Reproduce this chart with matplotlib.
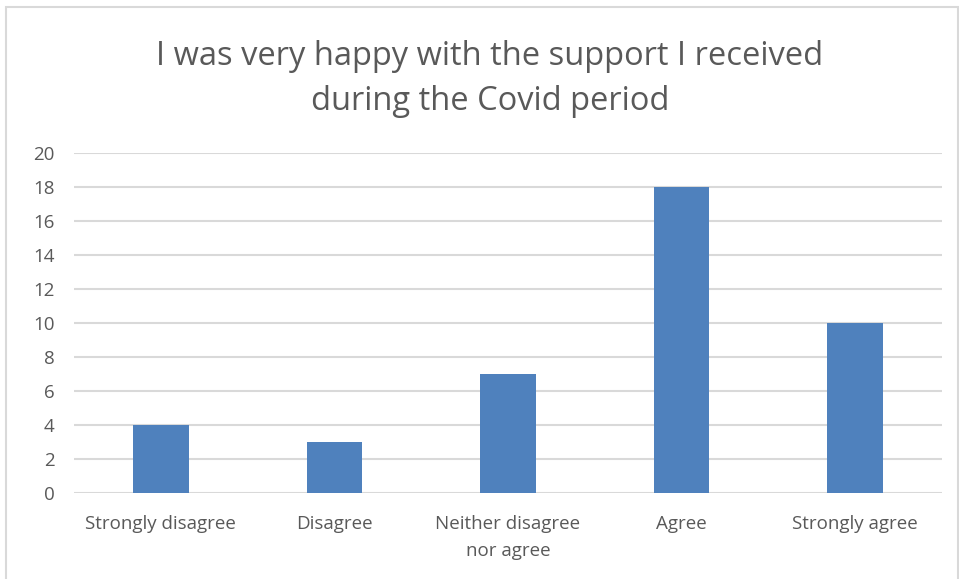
import matplotlib
matplotlib.use("Agg")
import matplotlib.pyplot as plt
from matplotlib.patches import Rectangle

categories = ["Strongly disagree", "Disagree", "Neither disagree\nnor agree",
              "Agree", "Strongly agree"]
counts = [4, 3, 7, 18, 10]
yticks = [0, 2, 4, 6, 8, 10, 12, 14, 16, 18, 20]

BAR   = "#4F81BD"
TEXT  = "#595959"
GRID  = "#D9D9D9"

plt.rcParams["font.family"] = ["Open Sans", "DejaVu Sans"]

fig = plt.figure(figsize=(9.59, 5.79), dpi=100)
W, H = 959, 579

# light chart frame
fig.patches.append(Rectangle((6 / W, -0.01), (958 - 6) / W, 1 - 7 / H + 0.01,
                             transform=fig.transFigure, fill=False,
                             edgecolor="#D9D9D9", lw=1.5))

ax = fig.add_axes([74 / W, 1 - 493 / H, (942 - 74) / W, (493 - 153) / H])
x = range(len(categories))
ax.bar(x, counts, width=0.32, color=BAR, zorder=3)

ax.set_xlim(-0.5, len(categories) - 0.5)
ax.set_ylim(0, 20)
ax.set_yticks(yticks)
ax.set_xticks(list(x))
ax.set_xticklabels(categories, fontsize=13.5, color=TEXT, linespacing=1.65)
ax.tick_params(axis="y", labelsize=13.5, labelcolor=TEXT, length=0, pad=14)
ax.tick_params(axis="x", length=0, pad=16)
ax.grid(axis="y", color=GRID, lw=1.5, zorder=0)
for s in ax.spines.values():
    s.set_visible(False)

fig.text(490 / W, 1 - 79 / H,
         "I was very happy with the support I received\nduring the Covid period",
         ha="center", va="center", fontsize=23.5, color=TEXT, linespacing=1.45)

fig.savefig("out.png", dpi=100)
